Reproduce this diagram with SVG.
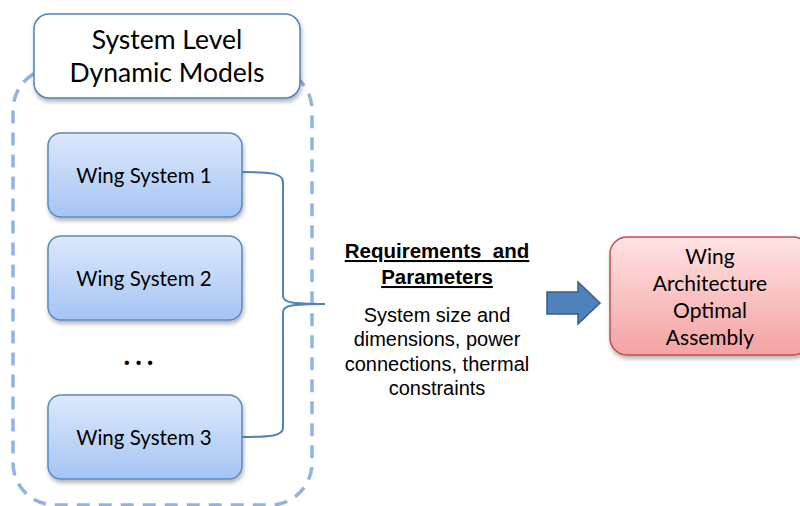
<svg xmlns="http://www.w3.org/2000/svg" width="800" height="506" viewBox="0 0 800 506">
<defs>
<linearGradient id="gBlue" x1="0" y1="0" x2="0" y2="1">
<stop offset="0" stop-color="#dde9fc"/>
<stop offset="1" stop-color="#a5c4f4"/>
</linearGradient>
<linearGradient id="gRed" x1="0" y1="0" x2="0" y2="1">
<stop offset="0" stop-color="#ffe3e3"/>
<stop offset="1" stop-color="#f4a2a2"/>
</linearGradient>
<filter id="sh" x="-10%" y="-10%" width="130%" height="140%">
<feDropShadow dx="1" dy="3" stdDeviation="2" flood-color="#000" flood-opacity="0.3"/>
</filter>
</defs>
<style>
.cal{font-family:Lato,"Liberation Sans",sans-serif;fill:#000}
.ar{font-family:"Liberation Sans",Arial,sans-serif;fill:#000}
.wbox{fill:url(#gBlue);stroke:#5b88c4;stroke-width:1.5}
.conn{fill:none;stroke:#4f81bd;stroke-width:2}
</style>
<rect x="0" y="0" width="800" height="506" fill="#fff"/>
<g id="container">
<rect x="13" y="68" width="299" height="437" rx="42" ry="42" fill="none" stroke="#8eb4e3" stroke-width="3.5" stroke-dasharray="13 9"/>
</g>
<g id="title">
<rect x="34" y="14" width="266" height="84" rx="15" ry="15" fill="#fff" stroke="#4f81bd" stroke-width="1.5" filter="url(#sh)"/>
<text class="cal" x="167" y="49" font-size="26.5" text-anchor="middle">System Level</text>
<text class="cal" x="167" y="82" font-size="26.5" text-anchor="middle">Dynamic Models</text>
</g>
<g id="ws1">
<rect class="wbox" x="48" y="133" width="194" height="84" rx="13" ry="13" filter="url(#sh)"/>
<text class="cal" x="144" y="183" font-size="20.5" text-anchor="middle">Wing System 1</text>
</g>
<g id="ws2">
<rect class="wbox" x="48" y="236" width="194" height="84" rx="13" ry="13" filter="url(#sh)"/>
<text class="cal" x="144" y="286" font-size="20.5" text-anchor="middle">Wing System 2</text>
</g>
<g id="dots">
<text class="cal" x="141" y="365" font-size="28" font-weight="bold" text-anchor="middle" letter-spacing="5">...</text>
</g>
<g id="ws3">
<rect class="wbox" x="48" y="395" width="194" height="84" rx="13" ry="13" filter="url(#sh)"/>
<text class="cal" x="144" y="445" font-size="20.5" text-anchor="middle">Wing System 3</text>
</g>
<g id="connectors">
<path class="conn" d="M242,172 C270,172 283,173 283,182 L283,296 C283,302 290,304 325,304"/>
<path class="conn" d="M242,437 C270,437 283,436 283,428 L283,312 C283,306 290,304 325,304"/>
</g>
<g id="requirements">
<text class="ar" x="437" y="258" font-size="20.5" font-weight="bold" text-anchor="middle" text-decoration="underline" xml:space="preserve">Requirements  and</text>
<text class="ar" x="437" y="284" font-size="20.5" font-weight="bold" text-anchor="middle" text-decoration="underline">Parameters</text>
<text class="ar" x="437" y="322" font-size="20" text-anchor="middle">System size and</text>
<text class="ar" x="437" y="346" font-size="20" text-anchor="middle">dimensions, power</text>
<text class="ar" x="437" y="371" font-size="20" text-anchor="middle">connections, thermal</text>
<text class="ar" x="437" y="395" font-size="20" text-anchor="middle">constraints</text>
</g>
<g id="arrow">
<path d="M547,292 L578,292 L578,282 L600,303 L578,324 L578,314 L547,314 Z" fill="#4f81bd" stroke="#385d8a" stroke-width="1.5"/>
</g>
<g id="assembly">
<rect x="610" y="237" width="200" height="118" rx="17" ry="17" fill="url(#gRed)" stroke="#c0504d" stroke-width="1.5" filter="url(#sh)"/>
<text class="cal" x="710" y="264" font-size="21" text-anchor="middle">Wing</text>
<text class="cal" x="710" y="291" font-size="21" text-anchor="middle">Architecture</text>
<text class="cal" x="710" y="318" font-size="21" text-anchor="middle">Optimal</text>
<text class="cal" x="710" y="345" font-size="21" text-anchor="middle">Assembly</text>
</g>
</svg>
